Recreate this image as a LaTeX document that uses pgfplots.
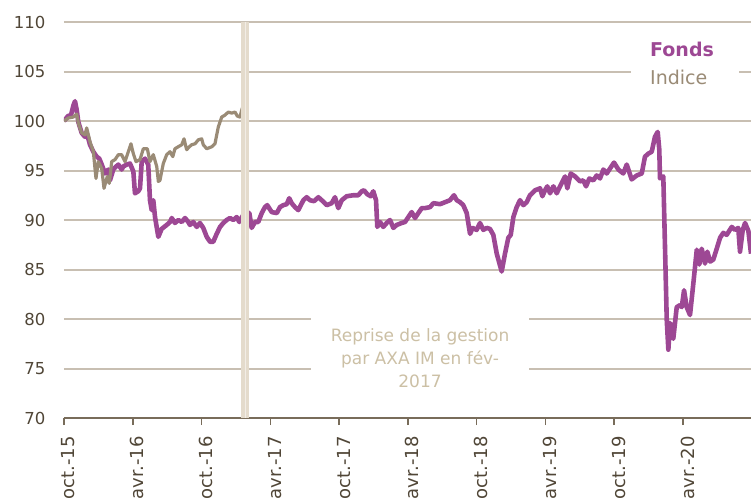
\documentclass[border=0pt]{standalone}
\usepackage{fontspec}
\setmainfont{DejaVu Sans}
\usepackage{pgfplots}
\pgfplotsset{compat=1.18}
\definecolor{fonds}{RGB}{157,72,148}
\definecolor{indice}{RGB}{154,139,118}
\definecolor{gridc}{RGB}{200,191,178}
\definecolor{axisc}{RGB}{120,108,90}
\definecolor{tickc}{RGB}{80,70,55}
\definecolor{bandc}{RGB}{228,219,204}
\definecolor{annc}{RGB}{204,192,165}
\begin{document}
\begin{tikzpicture}
\path[use as bounding box] (-64pt,-80pt) rectangle (687pt,418pt);
\begin{axis}[
  scale only axis, width=687pt, height=396pt,
  xmin=0, xmax=59.93, ymin=70, ymax=110,
  axis lines*=left,
  y axis line style={draw=none},
  x axis line style={color=axisc, line width=1.8pt},
  ytick={70,75,...,110},
  xtick={0,6,...,54},
  xticklabels={oct.-15,avr.-16,oct.-16,avr.-17,oct.-17,avr.-18,oct.-18,avr.-19,oct.-19,avr.-20},
  ymajorgrids, grid style={color=gridc, line width=2pt},
  xtick align=outside, major tick length=7pt,
  xtick style={color=axisc, line width=1.5pt},
  ytick style={draw=none},
  /pgf/number format/assume math mode=true,
  yticklabel style={font=\fontsize{16.5}{19}\selectfont, text=tickc, xshift=-15pt},
  xticklabel style={font=\fontsize{18}{21}\selectfont, text=tickc, rotate=90, anchor=east, xshift=-8pt, yshift=-4.5pt},
  clip=true,
]
% annotation and legend backgrounds
\fill[white] (axis cs:21.55,71.3) rectangle (axis cs:40.57,82.9);
\fill[white] (axis cs:49.46,103.1) rectangle (axis cs:58.89,108.7);
\node[align=center, text=annc, font=\fontsize{17}{23}\selectfont] at (axis cs:31.06,76.06) {Reprise de la gestion\\par AXA IM en fév-\\2017};
\node[anchor=west, text=fonds, font=\fontsize{19}{22}\selectfont\bfseries, inner sep=0pt] at (axis cs:51.12,107.2) {Fonds};
\node[anchor=west, text=indice, font=\fontsize{19}{22}\selectfont, inner sep=0pt] at (axis cs:51.12,104.4) {Indice};
% Fonds
\addplot[color=fonds, line width=4.6pt, line join=round] coordinates {
(0,100.0)(0.35,100.5)(0.61,100.6)(0.83,101.6)(0.96,102.0)(1.11,101.1)(1.25,99.9)(1.54,98.8)
(1.83,98.4)(1.98,98.8)(2.27,97.6)(2.56,96.9)(2.85,96.4)(3.08,96.2)(3.29,95.6)(3.58,94.7)
(3.86,95.1)(4.01,94.0)(4.30,95.1)(4.45,95.3)(4.74,95.6)(5.03,95.1)(5.17,95.4)(5.47,95.6)
(5.76,95.7)(6.05,94.9)(6.19,92.7)(6.48,92.9)(6.63,93.2)(6.78,95.9)(7.07,96.2)(7.35,95.6)
(7.50,92.0)(7.65,91.0)(7.79,92.0)(7.94,90.3)(8.23,88.3)(8.52,89.1)(8.96,89.5)(9.25,89.8)
(9.40,90.2)(9.68,89.7)(9.97,90.0)(10.27,89.8)(10.56,90.2)(10.84,89.8)(10.99,89.5)(11.28,89.8)
(11.58,89.3)(11.86,89.7)(12.15,89.2)(12.45,88.3)(12.74,87.8)(13.02,87.8)(13.32,88.6)(13.61,89.3)
(13.90,89.7)(14.19,90.0)(14.48,90.2)(14.77,90.0)(15.07,90.3)(15.29,89.8)(15.53,90.3)(15.79,90.8)
(16.17,90.7)(16.37,89.2)(16.66,89.8)(16.95,89.8)(17.25,90.7)(17.53,91.3)(17.73,91.5)(18.12,90.8)
(18.56,90.7)(18.84,91.3)(19.13,91.5)(19.43,91.6)(19.65,92.2)(19.86,91.7)(20.15,91.3)(20.44,91.0)
(20.88,92.0)(21.17,92.3)(21.46,92.0)(21.81,91.9)(22.19,92.3)(22.48,92.0)(22.92,91.5)(23.35,91.7)
(23.64,92.3)(23.93,91.2)(24.23,92.0)(24.66,92.4)(25.24,92.5)(25.67,92.5)(25.97,92.9)(26.17,93.0)
(26.46,92.6)(26.76,92.4)(26.98,92.9)(27.22,92.0)(27.33,89.3)(27.57,89.8)(27.85,89.3)(28.15,89.7)
(28.44,90.0)(28.73,89.2)(29.02,89.5)(29.46,89.7)(29.75,89.8)(30.04,90.3)(30.33,90.8)(30.62,90.2)
(30.91,90.7)(31.21,91.2)(31.49,91.2)(31.93,91.3)(32.22,91.7)(32.80,91.6)(33.24,91.8)(33.67,92.0)
(34.02,92.5)(34.26,92.0)(34.55,91.8)(34.83,91.5)(35.13,90.7)(35.42,88.6)(35.65,89.2)(36.00,89.0)
(36.29,89.7)(36.58,89.0)(36.88,89.2)(37.16,89.1)(37.45,88.5)(37.75,86.6)(38.18,84.8)(38.47,86.6)
(38.76,88.2)(38.97,88.5)(39.20,90.3)(39.49,91.3)(39.78,92.0)(40.07,91.5)(40.36,91.8)(40.65,92.5)
(41.09,93.0)(41.53,93.2)(41.73,92.4)(41.96,93.0)(42.16,93.4)(42.40,92.7)(42.69,93.4)(42.98,92.7)
(43.27,93.4)(43.71,94.4)(43.91,93.2)(44.20,94.7)(44.58,94.4)(45.01,93.9)(45.30,94.0)(45.54,93.4)
(45.83,94.2)(46.17,94.0)(46.47,94.5)(46.76,94.2)(47.05,95.1)(47.34,94.7)(47.63,95.2)(47.98,95.8)
(48.36,95.1)(48.79,94.7)(49.09,95.6)(49.52,94.1)(49.96,94.5)(50.40,94.7)(50.68,96.4)(50.97,96.7)
(51.27,96.9)(51.55,98.4)(51.79,98.9)(51.93,97.1)(51.99,94.2)(52.28,94.4)(52.58,79.9)(52.72,76.9)
(52.87,79.6)(53.15,78.0)(53.45,81.2)(53.74,81.4)(53.89,81.2)(54.09,82.9)(54.32,81.2)(54.61,80.4)
(54.90,83.6)(55.20,87.0)(55.42,85.5)(55.63,87.1)(55.92,85.6)(56.12,86.8)(56.36,85.8)(56.64,86.0)
(56.94,87.1)(57.23,88.2)(57.51,88.7)(57.81,88.5)(58.25,89.3)(58.54,89.0)(58.82,89.2)(58.97,86.8)
(59.21,89.0)(59.41,89.7)(59.70,88.9)(59.93,86.6)
};
% Indice
\addplot[color=indice, line width=3.2pt, line join=round] coordinates {
(0,100.0)(0.38,100.3)(0.81,100.4)(1.11,100.7)(1.25,99.8)(1.54,98.8)(1.83,98.6)(1.98,99.3)
(2.27,97.9)(2.56,96.9)(2.79,94.2)(2.99,95.9)(3.29,95.2)(3.49,93.2)(3.78,94.4)(3.95,93.7)
(4.16,95.9)(4.45,96.1)(4.74,96.6)(5.03,96.6)(5.32,95.9)(5.61,96.9)(5.84,97.7)(6.05,96.7)
(6.28,95.9)(6.63,96.1)(6.92,97.2)(7.27,97.2)(7.50,95.9)(7.79,96.6)(8.09,95.4)(8.23,93.9)
(8.37,94.0)(8.66,95.7)(8.96,96.6)(9.25,96.9)(9.49,96.4)(9.68,97.2)(9.97,97.4)(10.27,97.6)
(10.47,98.2)(10.70,97.1)(10.93,97.4)(11.14,97.6)(11.43,97.7)(11.72,98.1)(12.01,98.2)(12.15,97.6)
(12.45,97.2)(12.89,97.4)(13.17,97.7)(13.46,99.4)(13.76,100.4)(14.05,100.6)(14.33,100.9)(14.63,100.8)
(14.92,100.9)(15.12,100.5)(15.35,100.4)(15.55,101.3)
};
% vertical band (change of management, Feb 2017)
\addplot[color=bandc, line width=8pt, forget plot] coordinates {(15.82,70) (15.82,110)};
\addplot[color=white!50!bandc, line width=1pt, forget plot] coordinates {(15.82,70) (15.82,110)};
\end{axis}
\end{tikzpicture}
\end{document}
